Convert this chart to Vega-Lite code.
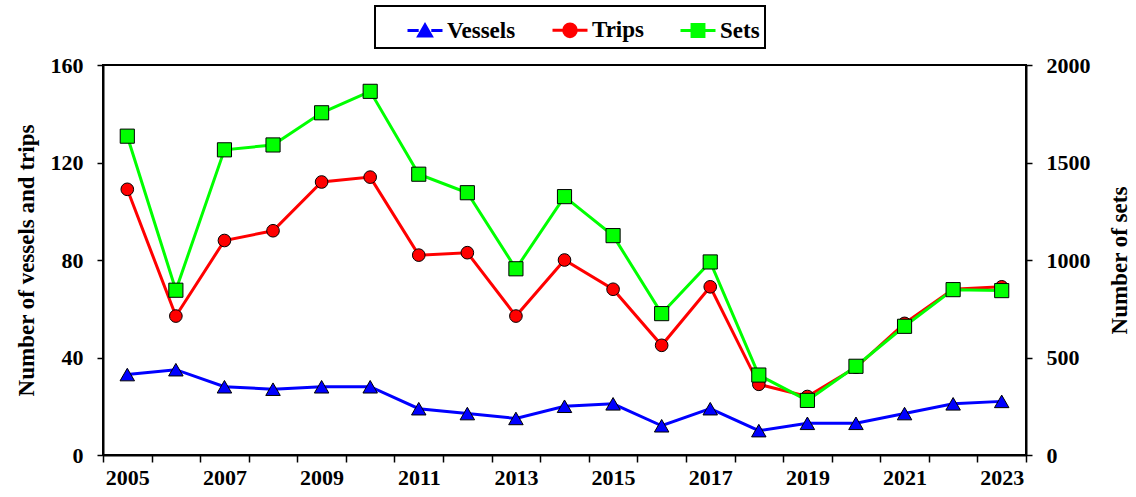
{
  "$schema": "https://vega.github.io/schema/vega-lite/v6.json",
  "width": 923,
  "height": 390,
  "autosize": {"type": "none"},
  "padding": {"left": 103, "top": 65, "right": 110, "bottom": 42},
  "background": "white",
  "data": {
    "values": [
      {"year": 2005, "series": "Vessels", "value": 33}, {"year": 2005, "series": "Trips", "value": 109}, {"year": 2005, "series": "Sets", "value": 1635},
      {"year": 2006, "series": "Vessels", "value": 35}, {"year": 2006, "series": "Trips", "value": 57}, {"year": 2006, "series": "Sets", "value": 845},
      {"year": 2007, "series": "Vessels", "value": 28}, {"year": 2007, "series": "Trips", "value": 88}, {"year": 2007, "series": "Sets", "value": 1565},
      {"year": 2008, "series": "Vessels", "value": 27}, {"year": 2008, "series": "Trips", "value": 92}, {"year": 2008, "series": "Sets", "value": 1590},
      {"year": 2009, "series": "Vessels", "value": 28}, {"year": 2009, "series": "Trips", "value": 112}, {"year": 2009, "series": "Sets", "value": 1755},
      {"year": 2010, "series": "Vessels", "value": 28}, {"year": 2010, "series": "Trips", "value": 114}, {"year": 2010, "series": "Sets", "value": 1865},
      {"year": 2011, "series": "Vessels", "value": 19}, {"year": 2011, "series": "Trips", "value": 82}, {"year": 2011, "series": "Sets", "value": 1440},
      {"year": 2012, "series": "Vessels", "value": 17}, {"year": 2012, "series": "Trips", "value": 83}, {"year": 2012, "series": "Sets", "value": 1345},
      {"year": 2013, "series": "Vessels", "value": 15}, {"year": 2013, "series": "Trips", "value": 57}, {"year": 2013, "series": "Sets", "value": 955},
      {"year": 2014, "series": "Vessels", "value": 20}, {"year": 2014, "series": "Trips", "value": 80}, {"year": 2014, "series": "Sets", "value": 1325},
      {"year": 2015, "series": "Vessels", "value": 21}, {"year": 2015, "series": "Trips", "value": 68}, {"year": 2015, "series": "Sets", "value": 1125},
      {"year": 2016, "series": "Vessels", "value": 12}, {"year": 2016, "series": "Trips", "value": 45}, {"year": 2016, "series": "Sets", "value": 725},
      {"year": 2017, "series": "Vessels", "value": 19}, {"year": 2017, "series": "Trips", "value": 69}, {"year": 2017, "series": "Sets", "value": 990},
      {"year": 2018, "series": "Vessels", "value": 10}, {"year": 2018, "series": "Trips", "value": 29}, {"year": 2018, "series": "Sets", "value": 410},
      {"year": 2019, "series": "Vessels", "value": 13}, {"year": 2019, "series": "Trips", "value": 24}, {"year": 2019, "series": "Sets", "value": 280},
      {"year": 2020, "series": "Vessels", "value": 13}, {"year": 2020, "series": "Trips", "value": 36}, {"year": 2020, "series": "Sets", "value": 455},
      {"year": 2021, "series": "Vessels", "value": 17}, {"year": 2021, "series": "Trips", "value": 54}, {"year": 2021, "series": "Sets", "value": 660},
      {"year": 2022, "series": "Vessels", "value": 21}, {"year": 2022, "series": "Trips", "value": 68}, {"year": 2022, "series": "Sets", "value": 848},
      {"year": 2023, "series": "Vessels", "value": 22}, {"year": 2023, "series": "Trips", "value": 69}, {"year": 2023, "series": "Sets", "value": 843}
    ]
  },
  "encoding": {
    "x": {
      "field": "year",
      "type": "quantitative",
      "scale": {"domain": [2004.5, 2023.5], "nice": false, "zero": false},
      "axis": {
        "title": null,
        "values": [2004.5, 2005.5, 2006.5, 2007.5, 2008.5, 2009.5, 2010.5, 2011.5, 2012.5, 2013.5, 2014.5, 2015.5, 2016.5, 2017.5, 2018.5, 2019.5, 2020.5, 2021.5, 2022.5, 2023.5],
        "labelExpr": "(datum.value + 0.5) % 2 == 1 ? format(datum.value + 0.5, 'd') : ''",
        "labelOffset": 24.3,
        "labelFlush": false,
        "labelOverlap": false,
        "labelBound": false,
        "tickSize": 7,
        "labelPadding": 5
      }
    }
  },
  "layer": [
    {
      "transform": [{"filter": "datum.series != 'Sets'"}],
      "encoding": {
        "y": {
          "field": "value",
          "type": "quantitative",
          "scale": {"domain": [0, 160], "nice": false},
          "axis": {"orient": "left", "values": [0, 40, 80, 120, 160], "format": "d", "title": "Number of vessels and trips", "labelPadding": 14, "titlePadding": 12}
        }
      },
      "layer": [
        {
          "mark": {"type": "line", "strokeWidth": 3},
          "encoding": {
            "color": {
              "field": "series",
              "type": "nominal",
              "scale": {"domain": ["Vessels", "Trips", "Sets"], "range": ["#0000ff", "#ff0000", "#00ff00"]},
              "legend": {
                "orient": "none",
                "legendX": 272,
                "legendY": -59,
                "direction": "horizontal",
                "title": " ",
                "titleOrient": "left",
                "titleFontSize": 10,
                "titlePadding": 26,
                "symbolSize": 1225,
                "labelFont": "Liberation Serif, Times New Roman, serif",
                "labelFontWeight": "bold",
                "labelFontSize": 23,
                "labelColor": "black",
                "labelOffset": 3,
                "columnPadding": 30,
                "padding": 5,
                "strokeColor": "black",
                "fillColor": "white",
                "labelExpr": "datum.label == 'Sets' ? 'Sets\u00a0\u00a0' : datum.label",
                "encode": {
                  "legend": {"update": {"strokeWidth": {"value": 2}}},
                  "symbols": {
                    "update": {
                      "shape": {"signal": "datum.value == 'Vessels' ? 'M-1,0H-0.36M0.36,0H1M-0.36,0.31L0.36,0.31L0,-0.31Z' : datum.value == 'Trips' ? 'M-1,0H-0.36M0.36,0H1M-0.36,0A0.36,0.36,0,1,1,0.36,0A0.36,0.36,0,1,1,-0.36,0Z' : 'M-1,0H-0.34M0.34,0H1M-0.34,-0.34H0.34V0.34H-0.34Z'"},
                      "fill": {"signal": "datum.value == 'Vessels' ? '#0000ff' : datum.value == 'Trips' ? '#ff0000' : '#00ff00'"},
                      "stroke": {"signal": "datum.value == 'Vessels' ? '#0000ff' : datum.value == 'Trips' ? '#ff0000' : '#00ff00'"},
                      "strokeWidth": {"value": 3},
                      "opacity": {"value": 1}
                    }
                  }
                }
              }
            }
          }
        },
        {
          "transform": [{"filter": "datum.series == 'Vessels'"}],
          "mark": {"type": "point", "shape": "triangle-up", "size": 210, "filled": true, "fill": "#0000ff", "stroke": "black", "strokeWidth": 1, "opacity": 1}
        },
        {
          "transform": [{"filter": "datum.series == 'Trips'"}],
          "mark": {"type": "point", "shape": "circle", "size": 160, "filled": true, "fill": "#ff0000", "stroke": "black", "strokeWidth": 1, "opacity": 1}
        }
      ]
    },
    {
      "transform": [{"filter": "datum.series == 'Sets'"}],
      "encoding": {
        "y": {
          "field": "value",
          "type": "quantitative",
          "scale": {"domain": [0, 2000], "nice": false},
          "axis": {"orient": "right", "values": [0, 500, 1000, 1500, 2000], "format": "d", "title": "Number of sets", "titleAngle": 270, "titleBaseline": "top", "labelPadding": 14, "titlePadding": 18}
        }
      },
      "layer": [
        {
          "mark": {"type": "line", "strokeWidth": 3, "color": "#00ff00"}
        },
        {
          "mark": {"type": "point", "shape": "square", "size": 200, "filled": true, "fill": "#00ff00", "stroke": "black", "strokeWidth": 1, "opacity": 1}
        }
      ]
    }
  ],
  "resolve": {"scale": {"y": "independent"}},
  "config": {
    "view": {"stroke": "black", "strokeWidth": 2},
    "axis": {
      "labelFont": "Liberation Serif, Times New Roman, serif",
      "labelFontWeight": "bold",
      "labelFontSize": 22,
      "labelColor": "black",
      "titleFont": "Liberation Serif, Times New Roman, serif",
      "titleFontWeight": "bold",
      "titleFontSize": 23,
      "titleColor": "black",
      "domainColor": "black",
      "domainWidth": 2,
      "tickColor": "black",
      "tickWidth": 1.5,
      "tickSize": 6,
      "grid": false
    }
  }
}
